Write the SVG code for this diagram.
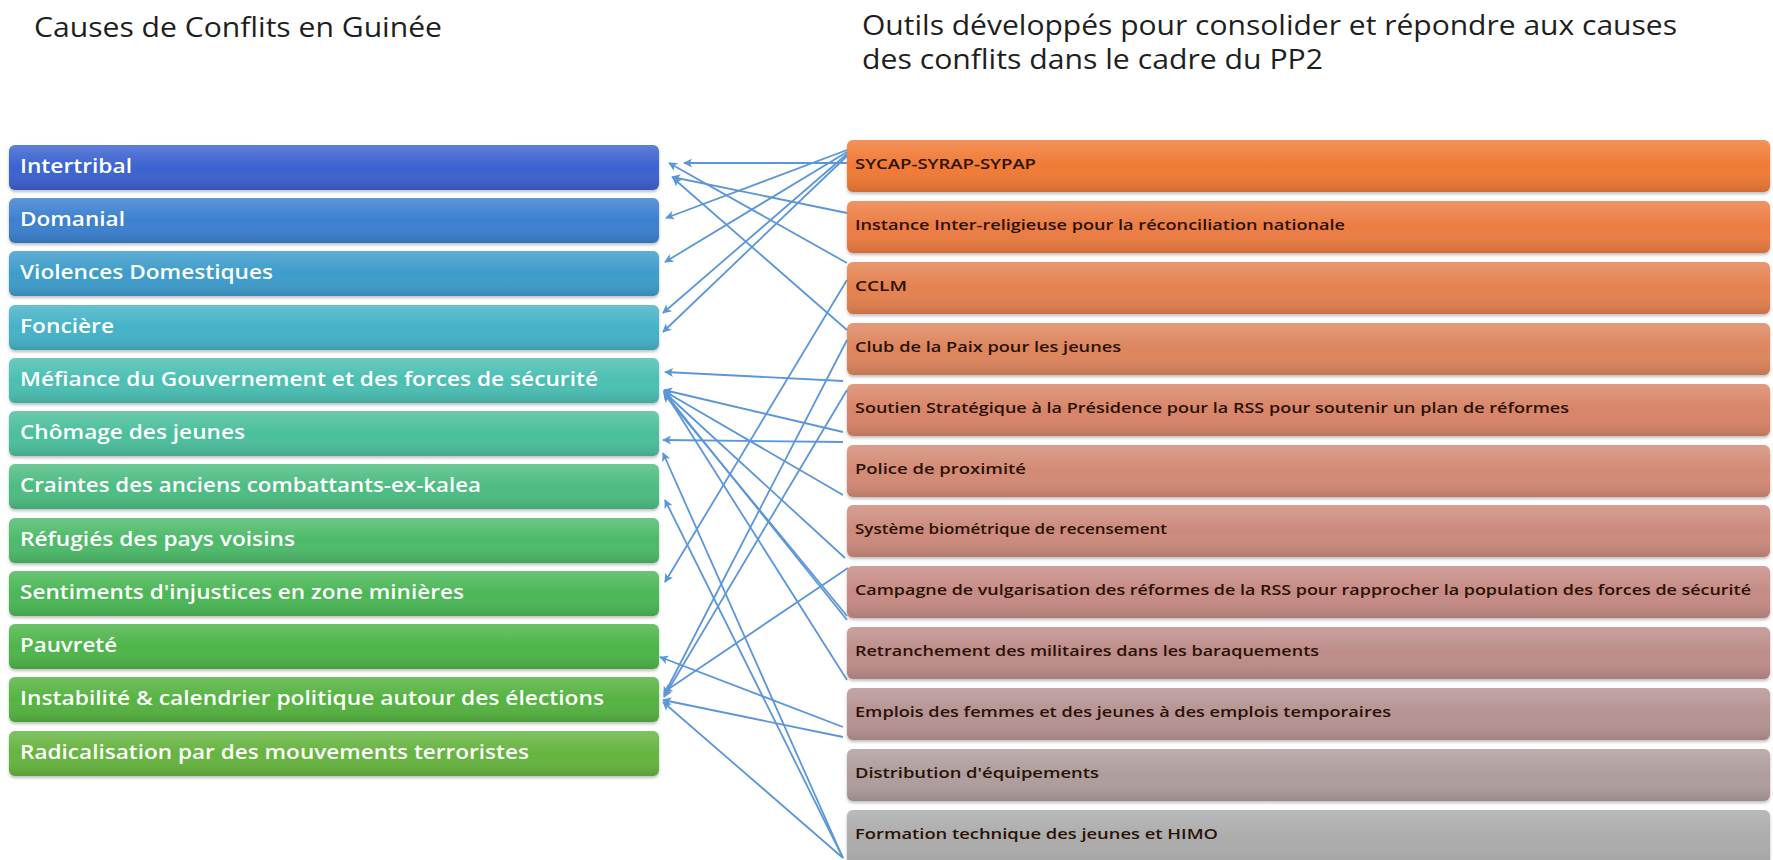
<svg xmlns="http://www.w3.org/2000/svg" width="1773" height="860" viewBox="0 0 1773 860">
<defs>
<style>
.title{font-family:"Open Sans","Liberation Sans",sans-serif;font-size:27px;fill:#1e1e1e}
.lt{font-family:"Open Sans","Liberation Sans",sans-serif;font-size:19px;font-weight:600;fill:#ffffff}
.rt{font-family:"Open Sans","Liberation Sans",sans-serif;font-size:15px;font-weight:600;fill:#2a1206}
.conn line{stroke:#5b96d8;stroke-width:1.8;fill:none;marker-end:url(#ah)}
</style>
<linearGradient id="shade" x1="0" y1="0" x2="0" y2="1">
<stop offset="0" stop-color="#ffffff" stop-opacity="0.18"/>
<stop offset="0.5" stop-color="#ffffff" stop-opacity="0"/>
<stop offset="1" stop-color="#000000" stop-opacity="0.12"/>
</linearGradient>
<filter id="sh" x="-5%" y="-20%" width="110%" height="150%">
<feDropShadow dx="0" dy="2" stdDeviation="1.5" flood-color="#000" flood-opacity="0.25"/>
</filter>
<marker id="ah" viewBox="0 0 10 10" refX="9" refY="5" markerWidth="5.5" markerHeight="5" orient="auto" markerUnits="strokeWidth">
<path d="M0,0 L10,5 L0,10 L2.5,5 z" fill="#5b96d8"/>
</marker>
</defs>
<rect width="1773" height="860" fill="#ffffff"/>

<g id="titles">
<text class="title" x="34" y="37" textLength="408" lengthAdjust="spacingAndGlyphs">Causes de Conflits en Guinée</text>
<text class="title" x="862" y="35" textLength="815" lengthAdjust="spacingAndGlyphs">Outils développés pour consolider et répondre aux causes</text>
<text class="title" x="862" y="69" textLength="461" lengthAdjust="spacingAndGlyphs">des conflits dans le cadre du PP2</text>
</g>

<g id="causes">
<g id="c1"><rect x="9" y="145" width="650" height="45" rx="6" fill="#3a62cf" filter="url(#sh)"/><rect x="9" y="145" width="650" height="45" rx="6" fill="url(#shade)"/><text class="lt" x="20" y="173" textLength="112" lengthAdjust="spacingAndGlyphs">Intertribal</text></g>
<g id="c2"><rect x="9" y="198" width="650" height="45" rx="6" fill="#3b80cf" filter="url(#sh)"/><rect x="9" y="198" width="650" height="45" rx="6" fill="url(#shade)"/><text class="lt" x="20" y="226" textLength="105" lengthAdjust="spacingAndGlyphs">Domanial</text></g>
<g id="c3"><rect x="9" y="251" width="650" height="45" rx="6" fill="#3c9ccb" filter="url(#sh)"/><rect x="9" y="251" width="650" height="45" rx="6" fill="url(#shade)"/><text class="lt" x="20" y="279" textLength="253" lengthAdjust="spacingAndGlyphs">Violences Domestiques</text></g>
<g id="c4"><rect x="9" y="305" width="650" height="45" rx="6" fill="#45b2c7" filter="url(#sh)"/><rect x="9" y="305" width="650" height="45" rx="6" fill="url(#shade)"/><text class="lt" x="20" y="333" textLength="94" lengthAdjust="spacingAndGlyphs">Foncière</text></g>
<g id="c5"><rect x="9" y="358" width="650" height="45" rx="6" fill="#4cbfb3" filter="url(#sh)"/><rect x="9" y="358" width="650" height="45" rx="6" fill="url(#shade)"/><text class="lt" x="20" y="386" textLength="578" lengthAdjust="spacingAndGlyphs">Méfiance du Gouvernement et des forces de sécurité</text></g>
<g id="c6"><rect x="9" y="411" width="650" height="45" rx="6" fill="#4cbf9c" filter="url(#sh)"/><rect x="9" y="411" width="650" height="45" rx="6" fill="url(#shade)"/><text class="lt" x="20" y="439" textLength="225" lengthAdjust="spacingAndGlyphs">Chômage des jeunes</text></g>
<g id="c7"><rect x="9" y="464" width="650" height="45" rx="6" fill="#4dbc82" filter="url(#sh)"/><rect x="9" y="464" width="650" height="45" rx="6" fill="url(#shade)"/><text class="lt" x="20" y="492" textLength="461" lengthAdjust="spacingAndGlyphs">Craintes des anciens combattants-ex-kalea</text></g>
<g id="c8"><rect x="9" y="518" width="650" height="45" rx="6" fill="#4dba6b" filter="url(#sh)"/><rect x="9" y="518" width="650" height="45" rx="6" fill="url(#shade)"/><text class="lt" x="20" y="546" textLength="275" lengthAdjust="spacingAndGlyphs">Réfugiés des pays voisins</text></g>
<g id="c9"><rect x="9" y="571" width="650" height="45" rx="6" fill="#4cb757" filter="url(#sh)"/><rect x="9" y="571" width="650" height="45" rx="6" fill="url(#shade)"/><text class="lt" x="20" y="599" textLength="444" lengthAdjust="spacingAndGlyphs">Sentiments d'injustices en zone minières</text></g>
<g id="c10"><rect x="9" y="624" width="650" height="45" rx="6" fill="#4db548" filter="url(#sh)"/><rect x="9" y="624" width="650" height="45" rx="6" fill="url(#shade)"/><text class="lt" x="20" y="652" textLength="97" lengthAdjust="spacingAndGlyphs">Pauvreté</text></g>
<g id="c11"><rect x="9" y="677" width="650" height="45" rx="6" fill="#54b33f" filter="url(#sh)"/><rect x="9" y="677" width="650" height="45" rx="6" fill="url(#shade)"/><text class="lt" x="20" y="705" textLength="584" lengthAdjust="spacingAndGlyphs">Instabilité &amp; calendrier politique autour des élections</text></g>
<g id="c12"><rect x="9" y="731" width="650" height="45" rx="6" fill="#66b43f" filter="url(#sh)"/><rect x="9" y="731" width="650" height="45" rx="6" fill="url(#shade)"/><text class="lt" x="20" y="759" textLength="509" lengthAdjust="spacingAndGlyphs">Radicalisation par des mouvements terroristes</text></g>
</g>

<g id="tools">
<g id="t1"><rect x="847" y="140" width="923" height="52" rx="6" fill="#f07a34" filter="url(#sh)"/><rect x="847" y="140" width="923" height="52" rx="6" fill="url(#shade)"/><text class="rt" x="855" y="169" textLength="181" lengthAdjust="spacingAndGlyphs">SYCAP-SYRAP-SYPAP</text></g>
<g id="t2"><rect x="847" y="201" width="923" height="52" rx="6" fill="#ec7c42" filter="url(#sh)"/><rect x="847" y="201" width="923" height="52" rx="6" fill="url(#shade)"/><text class="rt" x="855" y="230" textLength="490" lengthAdjust="spacingAndGlyphs">Instance Inter-religieuse pour la réconciliation nationale</text></g>
<g id="t3"><rect x="847" y="262" width="923" height="52" rx="6" fill="#e4814f" filter="url(#sh)"/><rect x="847" y="262" width="923" height="52" rx="6" fill="url(#shade)"/><text class="rt" x="855" y="291" textLength="52" lengthAdjust="spacingAndGlyphs">CCLM</text></g>
<g id="t4"><rect x="847" y="323" width="923" height="52" rx="6" fill="#dd855d" filter="url(#sh)"/><rect x="847" y="323" width="923" height="52" rx="6" fill="url(#shade)"/><text class="rt" x="855" y="352" textLength="266" lengthAdjust="spacingAndGlyphs">Club de la Paix pour les jeunes</text></g>
<g id="t5"><rect x="847" y="384" width="923" height="52" rx="6" fill="#d88567" filter="url(#sh)"/><rect x="847" y="384" width="923" height="52" rx="6" fill="url(#shade)"/><text class="rt" x="855" y="413" textLength="714" lengthAdjust="spacingAndGlyphs">Soutien Stratégique à la Présidence pour la RSS pour soutenir un plan de réformes</text></g>
<g id="t6"><rect x="847" y="445" width="923" height="52" rx="6" fill="#d38a74" filter="url(#sh)"/><rect x="847" y="445" width="923" height="52" rx="6" fill="url(#shade)"/><text class="rt" x="855" y="474" textLength="171" lengthAdjust="spacingAndGlyphs">Police de proximité</text></g>
<g id="t7"><rect x="847" y="505" width="923" height="52" rx="6" fill="#cc8a7c" filter="url(#sh)"/><rect x="847" y="505" width="923" height="52" rx="6" fill="url(#shade)"/><text class="rt" x="855" y="534" textLength="312" lengthAdjust="spacingAndGlyphs">Système biométrique de recensement</text></g>
<g id="t8"><rect x="847" y="566" width="923" height="52" rx="6" fill="#c68b84" filter="url(#sh)"/><rect x="847" y="566" width="923" height="52" rx="6" fill="url(#shade)"/><text class="rt" x="855" y="595" textLength="896" lengthAdjust="spacingAndGlyphs">Campagne de vulgarisation des réformes de la RSS pour rapprocher la population des forces de sécurité</text></g>
<g id="t9"><rect x="847" y="627" width="923" height="52" rx="6" fill="#bd8c8a" filter="url(#sh)"/><rect x="847" y="627" width="923" height="52" rx="6" fill="url(#shade)"/><text class="rt" x="855" y="656" textLength="464" lengthAdjust="spacingAndGlyphs">Retranchement des militaires dans les baraquements</text></g>
<g id="t10"><rect x="847" y="688" width="923" height="52" rx="6" fill="#b59392" filter="url(#sh)"/><rect x="847" y="688" width="923" height="52" rx="6" fill="url(#shade)"/><text class="rt" x="855" y="717" textLength="536" lengthAdjust="spacingAndGlyphs">Emplois des femmes et des jeunes à des emplois temporaires</text></g>
<g id="t11"><rect x="847" y="749" width="923" height="52" rx="6" fill="#ae9d9c" filter="url(#sh)"/><rect x="847" y="749" width="923" height="52" rx="6" fill="url(#shade)"/><text class="rt" x="855" y="778" textLength="244" lengthAdjust="spacingAndGlyphs">Distribution d'équipements</text></g>
<g id="t12"><rect x="847" y="810" width="923" height="60" rx="6" fill="#ababab" filter="url(#sh)"/><rect x="847" y="810" width="923" height="60" rx="6" fill="url(#shade)"/><text class="rt" x="855" y="839" textLength="363" lengthAdjust="spacingAndGlyphs">Formation technique des jeunes et HIMO</text></g>
</g>

<g id="connectors" class="conn">
<line x1="847" y1="163" x2="684" y2="163"/>
<line x1="847" y1="150" x2="666" y2="218"/>
<line x1="847" y1="152" x2="665" y2="262"/>
<line x1="847" y1="154" x2="663" y2="313"/>
<line x1="847" y1="156" x2="663" y2="332"/>
<line x1="847" y1="213" x2="672" y2="177"/>
<line x1="847" y1="263" x2="669" y2="163"/>
<line x1="847" y1="330" x2="673" y2="178"/>
<line x1="847" y1="280" x2="665" y2="582"/>
<line x1="847" y1="340" x2="664" y2="695"/>
<line x1="847" y1="390" x2="664" y2="697"/>
<line x1="843" y1="381" x2="665" y2="372"/>
<line x1="843" y1="432" x2="664" y2="390"/>
<line x1="843" y1="442" x2="663" y2="440"/>
<line x1="843" y1="495" x2="664" y2="391"/>
<line x1="845" y1="558" x2="664" y2="392"/>
<line x1="847" y1="620" x2="664" y2="392"/>
<line x1="847" y1="616" x2="664" y2="394"/>
<line x1="847" y1="680" x2="664" y2="391"/>
<line x1="848" y1="568" x2="664" y2="692"/>
<line x1="843" y1="727" x2="660" y2="657"/>
<line x1="843" y1="737" x2="663" y2="700"/>
<line x1="843" y1="858" x2="663" y2="453"/>
<line x1="843" y1="858" x2="665" y2="500"/>
<line x1="843" y1="858" x2="663" y2="702"/>
</g>
</svg>
